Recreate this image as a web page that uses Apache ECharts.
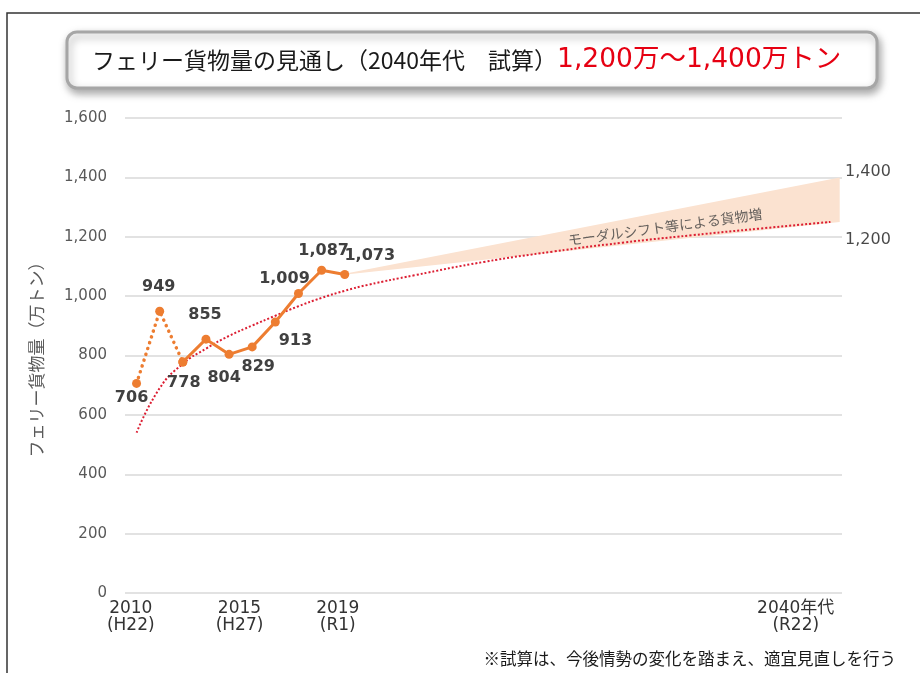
<!DOCTYPE html>
<html>
<head>
<meta charset="utf-8">
<script src="https://cdn.jsdelivr.net/npm/echarts@6/dist/echarts.min.js"></script>
<style>
  html, body { margin: 0; padding: 0; background: #fff; }
  #chart { width: 920px; height: 673px; }
</style>
</head>
<body>
<div id="chart"></div>
<script>
// 実績（2010-2012 は点線、2012-2019 は実線）
const dottedYears = [2010, 2011, 2012];
const dottedVals = [706, 949, 778];
const solidYears = [2012, 2013, 2014, 2015, 2016, 2017, 2018, 2019];
const solidVals = [778, 855, 804, 829, 913, 1009, 1087, 1073];

// 近似曲線
const trendYears = [2010, 2011, 2012, 2013, 2014, 2015, 2016, 2017, 2018, 2019, 2020, 2022, 2025, 2028, 2031, 2034, 2037, 2040];
const trendVals = [540, 690, 772, 823, 866, 901, 934, 966, 994, 1018, 1038, 1070, 1115, 1150, 1180, 1205, 1228, 1250];

// モーダルシフト分の帯
const bandYears = [2019.05, 2040.4];
const bandLow = [1073, 1250];
const bandHigh = [1076, 1400];

// x軸ラベル
const xTickValues = [2009.75, 2014.45, 2018.7, 2038.5];
const xTickLabels = ['2010\n(H22)', '2015\n(H27)', '2019\n(R1)', '2040年代\n(R22)'];

const bandNote = 'モーダルシフト等による貨物増';
const rightLabels = ['1,400', '1,200'];
const rightLabelVals = [1418, 1189];

const ORANGE = '#ED7D31';
const CJK = '"Noto Sans CJK JP", sans-serif';
const NUM = '"DejaVu Sans", "Noto Sans CJK JP", sans-serif';

// ラベル位置（点からのずれ）
const dottedOffsets = [[-5, 14], [-1, -24], [0, 0]];
const solidOffsets = [[1, 21], [-1, -24], [-5, 24], [6, 20], [20, 19], [-14, -15], [2, -19], [25, -19]];

function fmt(v) {
  return v.toLocaleString('en-US');
}

function pointData(years, vals, offsets) {
  return years.map((y, i) => ({
    value: [y, vals[i]],
    label: { show: true, position: 'inside', offset: offsets[i] }
  }));
}

let chart = echarts.init(document.getElementById('chart'));

let dotted = pointData(dottedYears, dottedVals, dottedOffsets);
dotted[2].label.show = false; // 778 は実線側で表示
let solid = pointData(solidYears, solidVals, solidOffsets);

let pointLabel = {
  color: '#404040',
  fontSize: 16,
  fontWeight: 'bold',
  fontFamily: '"DejaVu Sans", sans-serif',
  formatter: p => fmt(p.value[1])
};

chart.setOption({
  animation: false,
  grid: { left: 125, right: 78, top: 118, bottom: 80 },
  xAxis: {
    type: 'value',
    min: 2009.5,
    max: 2040.5,
    splitLine: { show: false },
    axisLine: { show: false },
    axisTick: { show: false },
    axisLabel: {
      customValues: xTickValues,
      formatter: function (v) {
        let i = xTickValues.indexOf(v);
        return i >= 0 ? xTickLabels[i] : '';
      },
      margin: 7,
      color: '#333',
      fontSize: 17,
      lineHeight: 17,
      fontFamily: NUM
    }
  },
  yAxis: {
    type: 'value',
    min: 0,
    max: 1600,
    interval: 200,
    name: 'フェリー貨物量（万トン）',
    nameLocation: 'middle',
    nameRotate: 90,
    nameGap: 80,
    nameTextStyle: { color: '#595959', fontSize: 17, fontFamily: CJK },
    axisLine: { show: false },
    axisTick: { show: false },
    splitLine: { lineStyle: { color: '#D9D9D9', width: 1.5 } },
    axisLabel: {
      margin: 18,
      color: '#595959',
      fontSize: 15,
      fontFamily: '"DejaVu Sans", sans-serif',
      formatter: v => fmt(v)
    }
  },
  graphic: [
    {
      type: 'rect',
      shape: { x: 7, y: 13, width: 960, height: 720 },
      style: { fill: 'none', stroke: '#333', lineWidth: 1.5 },
      silent: true
    },
    {
      type: 'rect',
      shape: { x: 67, y: 32, width: 810, height: 56, r: 10 },
      style: {
        fill: '#fff',
        stroke: '#A6A6A6',
        lineWidth: 3,
        shadowBlur: 8,
        shadowOffsetX: 2,
        shadowOffsetY: 4,
        shadowColor: 'rgba(0,0,0,0.35)'
      },
      silent: true
    },
    {
      type: 'text',
      x: 92,
      y: 60,
      style: {
        text: '{a|フェリー貨物量の見通し（2040年代　試算）}{r|1,200万～1,400万トン}',
        verticalAlign: 'middle',
        rich: {
          a: { fill: '#1a1a1a', fontSize: 23, fontFamily: CJK },
          r: { fill: '#E60012', fontSize: 26.5, fontFamily: NUM }
        }
      },
      silent: true
    },
    {
      type: 'text',
      right: 24,
      top: 650,
      style: {
        text: '※試算は、今後情勢の変化を踏まえ、適宜見直しを行う',
        fill: '#1a1a1a',
        fontSize: 16.5,
        fontFamily: CJK
      },
      silent: true
    }
  ],
  series: [
    {
      type: 'custom',
      z: 1,
      silent: true,
      data: [0],
      renderItem: function (params, api) {
        let pts = [
          api.coord([bandYears[0], bandHigh[0]]),
          api.coord([bandYears[1], bandHigh[1]]),
          api.coord([bandYears[1], bandLow[1]]),
          api.coord([bandYears[0], bandLow[0]])
        ];
        return {
          type: 'polygon',
          shape: { points: pts },
          style: { fill: '#FBE2D0' }
        };
      }
    },
    {
      type: 'line',
      z: 2,
      smooth: true,
      showSymbol: false,
      data: trendYears.map((y, i) => [y, trendVals[i]]),
      lineStyle: { color: '#DC1E32', width: 2, type: [2, 2] }
    },
    {
      type: 'line',
      z: 3,
      data: dotted,
      symbol: 'circle',
      symbolSize: 9,
      itemStyle: { color: ORANGE },
      lineStyle: { color: ORANGE, width: 3.5, type: [0.1, 6], cap: 'round' },
      label: pointLabel
    },
    {
      type: 'line',
      z: 4,
      data: solid,
      symbol: 'circle',
      symbolSize: 9,
      itemStyle: { color: ORANGE },
      lineStyle: { color: ORANGE, width: 3 },
      label: pointLabel
    },
    {
      type: 'scatter',
      z: 5,
      silent: true,
      symbolSize: 0,
      data: [[2032.85, 1233]],
      label: {
        show: true,
        position: 'inside',
        rotate: 7.8,
        formatter: bandNote,
        color: '#404040',
        fontSize: 14,
        fontFamily: CJK
      }
    },
    {
      type: 'scatter',
      z: 5,
      silent: true,
      symbolSize: 0,
      data: rightLabelVals.map((v, i) => ({ value: [2040.5, v], name: rightLabels[i] })),
      label: {
        show: true,
        position: 'right',
        distance: 3,
        formatter: p => p.name,
        color: '#1a1a1a',
        fontSize: 16,
        fontFamily: '"DejaVu Sans", sans-serif'
      }
    }
  ]
});
</script>
</body>
</html>
